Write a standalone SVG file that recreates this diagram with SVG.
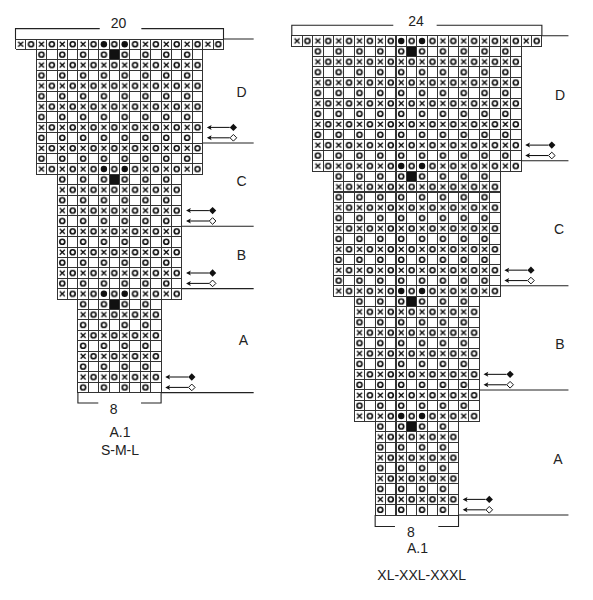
<svg xmlns="http://www.w3.org/2000/svg" xmlns:xlink="http://www.w3.org/1999/xlink" width="593" height="600" viewBox="0 0 593 600">
<style>
.t{font-family:"Liberation Sans",Arial,sans-serif;font-size:14px;fill:#222;text-anchor:middle}
.ln{stroke:#222;stroke-width:1.05;fill:none}
.fill{fill:url(#pl);stroke:none}
.gl{fill:none;stroke:#333;stroke-width:0.96;shape-rendering:crispEdges}
.sq{fill:#111}
</style>
<defs>
<pattern id="pl" x="0" y="0" width="20" height="20" patternUnits="userSpaceOnUse">
<rect width="20" height="20" fill="#fff"/>
<path d="M2.6,2.6L7.4,7.4M7.4,2.6L2.6,7.4" stroke="#111" stroke-width="1.35" fill="none"/>
<g fill="none" stroke="#111" stroke-width="1.6">
<circle cx="15" cy="5" r="2.4"/>
<circle cx="5" cy="15" r="2.4"/>
</g>
</pattern>
<clipPath id="cl"><polygon points="0,0 200,0 200,10 180,10 180,130 160,130 160,250 140,250 140,340 60,340 60,250 40,250 40,130 20,130 20,10 0,10"/></clipPath>
<clipPath id="cr"><polygon points="0,0 240,0 240,10 220,10 220,130 200,130 200,250 180,250 180,370 160,370 160,460 80,460 80,370 60,370 60,250 40,250 40,130 20,130 20,10 0,10"/></clipPath>
<g id="dot"><rect x="-4.5" y="-4.5" width="9" height="9" fill="#fff"/><circle r="3.1" fill="#111"/></g>
<g id="arF">
<path d="M1.5,0H22" stroke="#111" stroke-width="1" fill="none"/>
<path d="M0,0L4.6,-2.4L3.6,0L4.6,2.4Z" fill="#111"/>
<path d="M22,0L25.5,-3.5L29,0L25.5,3.5Z" fill="#111"/>
</g>
<g id="arO">
<path d="M1.5,0H22" stroke="#111" stroke-width="1" fill="none"/>
<path d="M0,0L4.6,-2.4L3.6,0L4.6,2.4Z" fill="#111"/>
<path d="M22.3,0L25.5,-3.2L28.7,0L25.5,3.2Z" fill="#fff" stroke="#111" stroke-width="0.95"/>
</g>
</defs>
<rect width="593" height="600" fill="#fff"/>

<g id="chart-sml" transform="translate(15.5,39) scale(1.04)">
<polygon id="cells-sml" class="fill" points="0,0 200,0 200,10 180,10 180,130 160,130 160,250 140,250 140,340 60,340 60,250 40,250 40,130 20,130 20,10 0,10"/>
<g id="special-sml">
<use href="#dot" x="85" y="5"/><use href="#dot" x="105" y="5"/>
<use href="#dot" x="85" y="125"/><use href="#dot" x="105" y="125"/>
<use href="#dot" x="85" y="245"/><use href="#dot" x="105" y="245"/>
<rect class="sq" x="90" y="10" width="10" height="10"/>
<rect class="sq" x="90" y="130" width="10" height="10"/>
<rect class="sq" x="90" y="250" width="10" height="10"/>
</g>
<path id="grid-sml" class="gl" clip-path="url(#cl)" d="M0,10H200M0,20H200M0,30H200M0,40H200M0,50H200M0,60H200M0,70H200M0,80H200M0,90H200M0,100H200M0,110H200M0,120H200M0,130H200M0,140H200M0,150H200M0,160H200M0,170H200M0,180H200M0,190H200M0,200H200M0,210H200M0,220H200M0,230H200M0,240H200M0,250H200M0,260H200M0,270H200M0,280H200M0,290H200M0,300H200M0,310H200M0,320H200M0,330H200M10,0V340M20,0V340M30,0V340M40,0V340M50,0V340M60,0V340M70,0V340M80,0V340M90,0V340M100,0V340M110,0V340M120,0V340M130,0V340M140,0V340M150,0V340M160,0V340M170,0V340M180,0V340M190,0V340"/>
<polygon class="gl" points="0,0 200,0 200,10 180,10 180,130 160,130 160,250 140,250 140,340 60,340 60,250 40,250 40,130 20,130 20,10 0,10"/>
<g id="connectors-sml">
<path class="ln" d="M0,0V-10H81M121,-10H200V0"/>
<path class="ln" d="M60,340V350H79.6M120.7,350H140V340"/>
<path class="ln" d="M200,0H229M180,100H229M160,180H229M160,240H229M140,340H229"/>
<use href="#arF" x="184" y="85"/><use href="#arO" x="184" y="95"/>
<use href="#arF" x="164" y="165"/><use href="#arO" x="164" y="175"/>
<use href="#arF" x="164" y="225"/><use href="#arO" x="164" y="235"/>
<use href="#arF" x="144" y="325"/><use href="#arO" x="144" y="335"/>
</g>
</g>

<g id="chart-xl" transform="translate(291.8,35.7) scale(1.042)">
<polygon id="cells-xl" class="fill" points="0,0 240,0 240,10 220,10 220,130 200,130 200,250 180,250 180,370 160,370 160,460 80,460 80,370 60,370 60,250 40,250 40,130 20,130 20,10 0,10"/>
<g id="special-xl">
<use href="#dot" x="105" y="5"/><use href="#dot" x="125" y="5"/>
<use href="#dot" x="105" y="125"/><use href="#dot" x="125" y="125"/>
<use href="#dot" x="105" y="245"/><use href="#dot" x="125" y="245"/>
<use href="#dot" x="105" y="365"/><use href="#dot" x="125" y="365"/>
<rect class="sq" x="110" y="10" width="10" height="10"/>
<rect class="sq" x="110" y="130" width="10" height="10"/>
<rect class="sq" x="110" y="250" width="10" height="10"/>
<rect class="sq" x="110" y="370" width="10" height="10"/>
</g>
<path id="grid-xl" class="gl" clip-path="url(#cr)" d="M0,10H240M0,20H240M0,30H240M0,40H240M0,50H240M0,60H240M0,70H240M0,80H240M0,90H240M0,100H240M0,110H240M0,120H240M0,130H240M0,140H240M0,150H240M0,160H240M0,170H240M0,180H240M0,190H240M0,200H240M0,210H240M0,220H240M0,230H240M0,240H240M0,250H240M0,260H240M0,270H240M0,280H240M0,290H240M0,300H240M0,310H240M0,320H240M0,330H240M0,340H240M0,350H240M0,360H240M0,370H240M0,380H240M0,390H240M0,400H240M0,410H240M0,420H240M0,430H240M0,440H240M0,450H240M10,0V460M20,0V460M30,0V460M40,0V460M50,0V460M60,0V460M70,0V460M80,0V460M90,0V460M100,0V460M110,0V460M120,0V460M130,0V460M140,0V460M150,0V460M160,0V460M170,0V460M180,0V460M190,0V460M200,0V460M210,0V460M220,0V460M230,0V460"/>
<polygon class="gl" points="0,0 240,0 240,10 220,10 220,130 200,130 200,250 180,250 180,370 160,370 160,460 80,460 80,370 60,370 60,250 40,250 40,130 20,130 20,10 0,10"/>
<g id="connectors-xl">
<path class="ln" d="M0,0V-10H97.4M139,-10H240V0"/>
<path class="ln" d="M80,460V471H99M140.6,471H160V460"/>
<path class="ln" d="M240,0H265.5M220,120H265.5M200,240H265.5M180,340H265.5M160,460H265.5"/>
<use href="#arF" x="224" y="105"/><use href="#arO" x="224" y="115"/>
<use href="#arF" x="204" y="225"/><use href="#arO" x="204" y="235"/>
<use href="#arF" x="184" y="325"/><use href="#arO" x="184" y="335"/>
<use href="#arF" x="164" y="445"/><use href="#arO" x="164" y="455"/>
</g>
</g>

<g id="labels">
<text class="t" x="118.5" y="28">20</text>
<text class="t" x="416" y="25.5">24</text>
<text class="t" x="241.5" y="96.7">D</text>
<text class="t" x="241.5" y="186.3">C</text>
<text class="t" x="241.5" y="259.5">B</text>
<text class="t" x="243.3" y="345">A</text>
<text class="t" x="560" y="100">D</text>
<text class="t" x="559" y="234">C</text>
<text class="t" x="560" y="348.5">B</text>
<text class="t" x="558" y="463.5">A</text>
<text class="t" x="113.7" y="413.5">8</text>
<text class="t" x="120" y="437">A.1</text>
<text class="t" x="120" y="455">S-M-L</text>
<text class="t" x="411" y="537">8</text>
<text class="t" x="417.5" y="553">A.1</text>
<text class="t" x="421.7" y="580">XL-XXL-XXXL</text>
</g>
</svg>
